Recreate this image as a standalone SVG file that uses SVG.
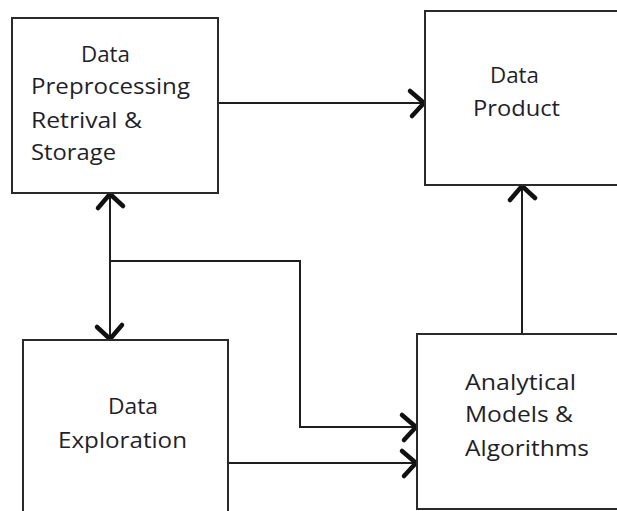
<svg xmlns="http://www.w3.org/2000/svg" width="617" height="511" viewBox="0 0 617 511">
  <style>
    .box { fill: #ffffff; stroke: #2a2a2a; stroke-width: 2; }
    .wire { fill: none; stroke: #1e1e1e; stroke-width: 2; }
    .lbl { font-family: "Open Sans", "Liberation Sans", Arial, sans-serif; font-size: 21px; fill: #1f1f2a; }
  </style>
  <defs>
    <marker id="chev" viewBox="-20 -16 26 32" refX="0" refY="0" markerWidth="26" markerHeight="32"
            markerUnits="userSpaceOnUse" orient="auto-start-reverse" overflow="visible">
      <path d="M-14,-12 L0,0 L-12,13" fill="none" stroke="#111" stroke-width="4.5" stroke-linejoin="round" stroke-linecap="round"/>
    </marker>
  </defs>
  <rect width="617" height="511" fill="#ffffff"/>

  <g id="connectors">
    <path class="wire" d="M218,103 H424" marker-end="url(#chev)"/>
    <path class="wire" d="M110,194 V339" marker-start="url(#chev)" marker-end="url(#chev)"/>
    <path class="wire" d="M110,261 H300 V427 H416" marker-end="url(#chev)"/>
    <path class="wire" d="M228,463 H416" marker-end="url(#chev)"/>
    <path class="wire" d="M522,334 V186" marker-end="url(#chev)"/>
  </g>

  <g id="node-storage">
    <rect class="box" x="12" y="18" width="206" height="175"/>
    <text class="lbl" x="81" y="62" textLength="49" lengthAdjust="spacingAndGlyphs">Data</text>
    <text class="lbl" x="31" y="94" textLength="159" lengthAdjust="spacingAndGlyphs">Preprocessing</text>
    <text class="lbl" x="31" y="128" textLength="111" lengthAdjust="spacingAndGlyphs">Retrival &amp;</text>
    <text class="lbl" x="31" y="160" textLength="85" lengthAdjust="spacingAndGlyphs">Storage</text>
  </g>

  <g id="node-product">
    <rect class="box" x="425" y="11" width="200" height="174"/>
    <text class="lbl" x="490" y="83" textLength="49" lengthAdjust="spacingAndGlyphs">Data</text>
    <text class="lbl" x="473" y="116" textLength="87" lengthAdjust="spacingAndGlyphs">Product</text>
  </g>

  <g id="node-exploration">
    <rect class="box" x="23" y="340" width="205" height="200"/>
    <text class="lbl" x="108" y="414" textLength="50" lengthAdjust="spacingAndGlyphs">Data</text>
    <text class="lbl" x="58" y="448" textLength="129" lengthAdjust="spacingAndGlyphs">Exploration</text>
  </g>

  <g id="node-models">
    <rect class="box" x="417" y="334" width="210" height="175"/>
    <text class="lbl" x="465" y="390" textLength="111" lengthAdjust="spacingAndGlyphs">Analytical</text>
    <text class="lbl" x="465" y="422" textLength="108" lengthAdjust="spacingAndGlyphs">Models &amp;</text>
    <text class="lbl" x="465" y="456" textLength="124" lengthAdjust="spacingAndGlyphs">Algorithms</text>
  </g>
</svg>
